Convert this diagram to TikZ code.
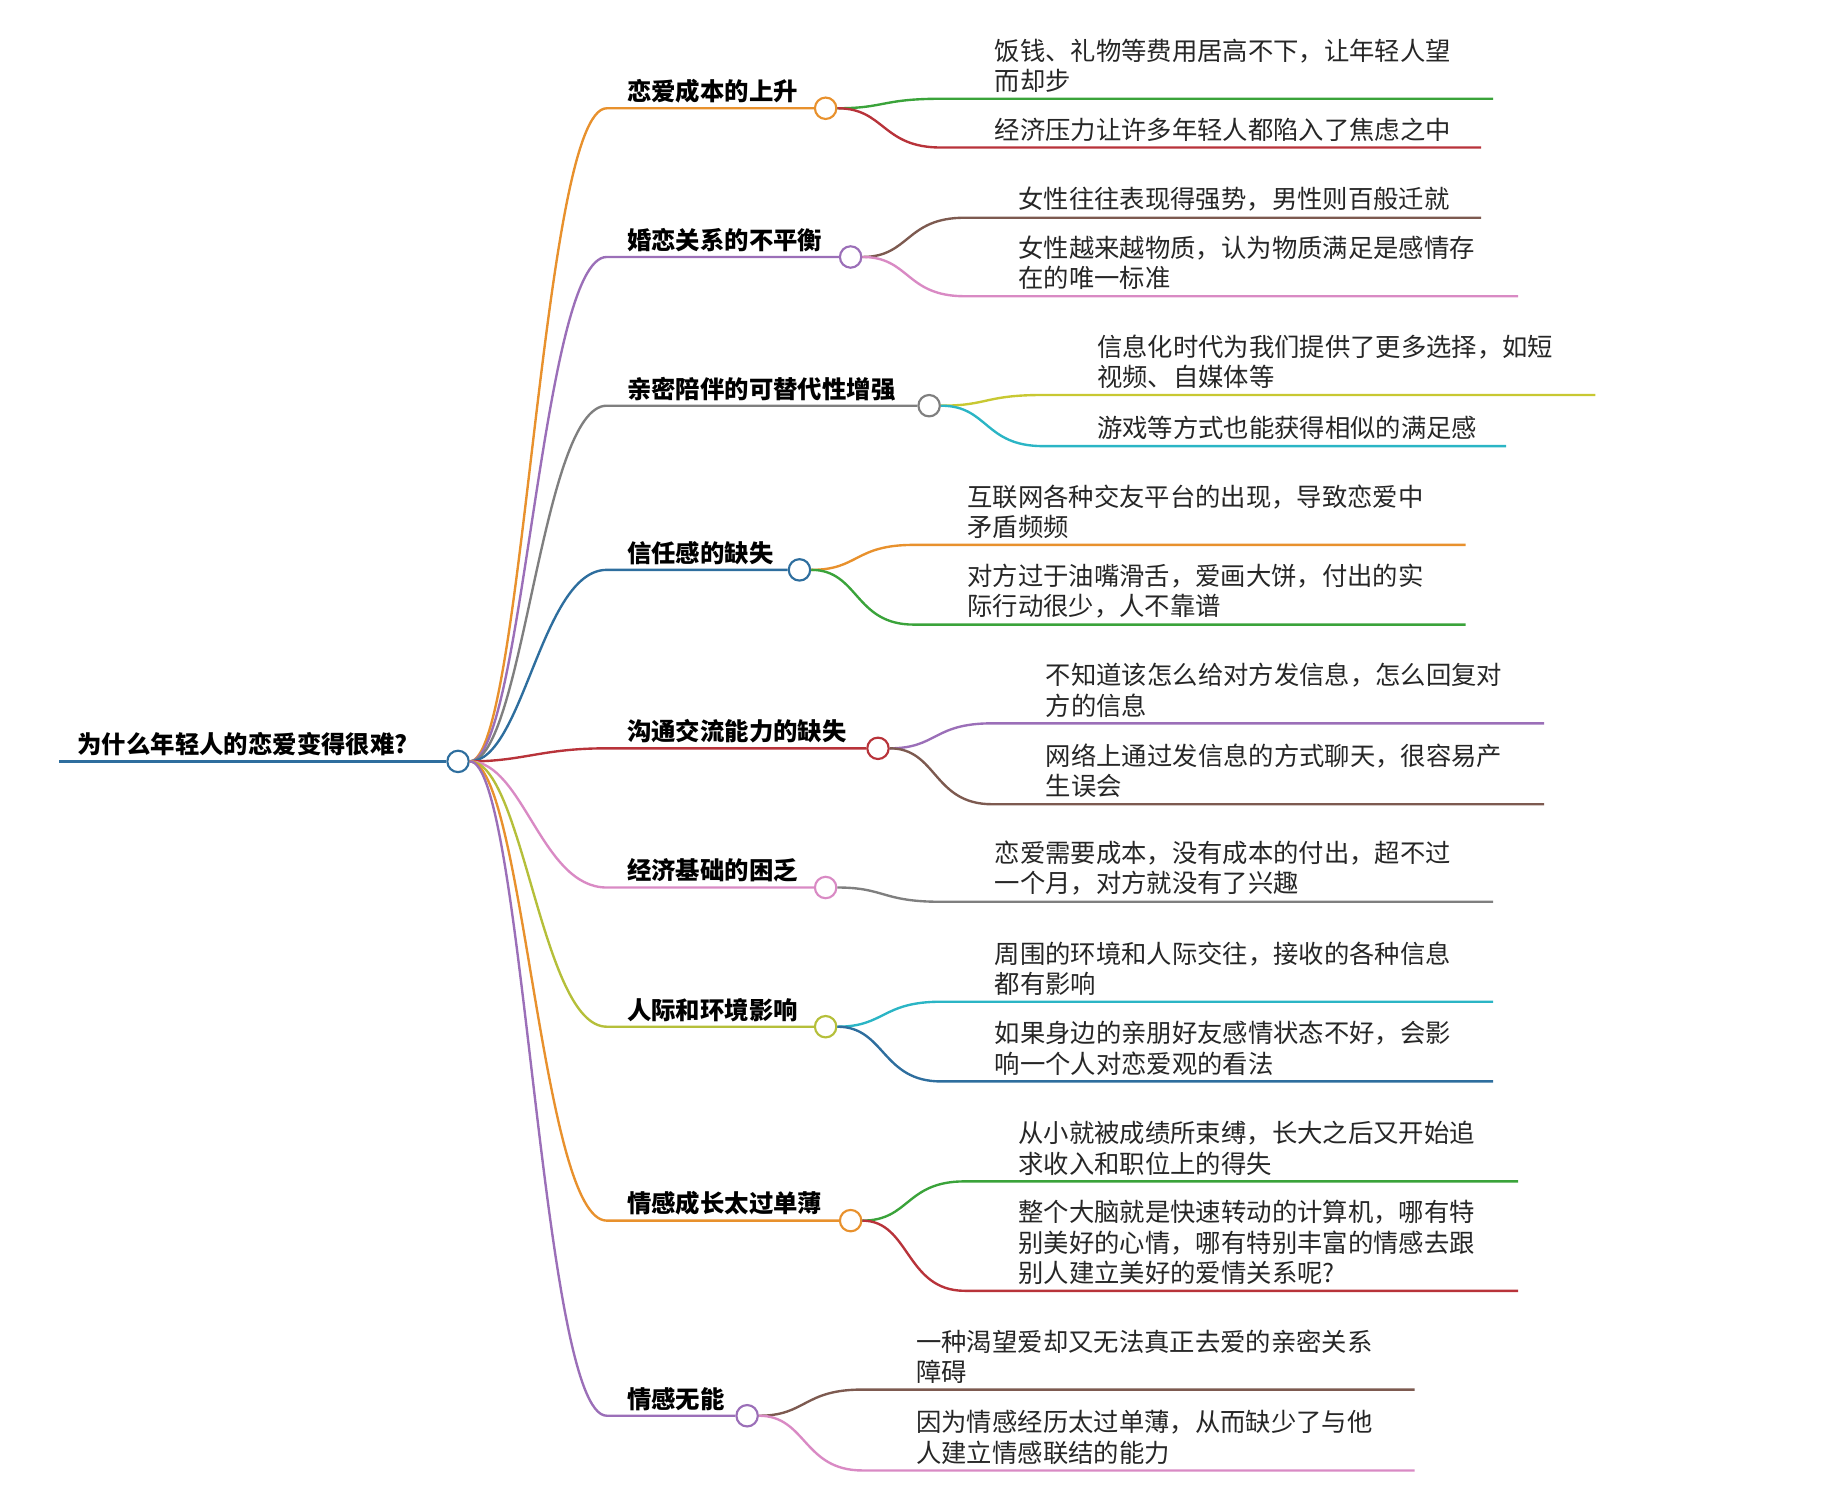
\documentclass[tikz,border=0pt]{standalone}
\usepackage{fontspec}
\setmainfont{Noto Sans CJK SC}
\definecolor{cor}{HTML}{E8912D}
\definecolor{cpu}{HTML}{9B6FB8}
\definecolor{cgr}{HTML}{7F7F7F}
\definecolor{cbl}{HTML}{2E6E9E}
\definecolor{cre}{HTML}{B8333A}
\definecolor{cpi}{HTML}{D98AC4}
\definecolor{cyg}{HTML}{B5BF3A}
\definecolor{cgn}{HTML}{3AA33A}
\definecolor{cbr}{HTML}{7D5A50}
\definecolor{ccy}{HTML}{2BB5C5}
\definecolor{cye}{HTML}{C8C832}
\tikzset{
 dot/.style={circle,draw=#1,fill=white,line width=1.8pt,minimum size=18pt,inner sep=0pt},
 ln/.style={draw=#1,line width=2pt},
 lab/.style={font=\fontsize{20.5}{24}\selectfont\bfseries,anchor=south west,inner sep=0pt,yshift=4pt},
 leaftext/.style={font=\fontsize{21.3}{25.5}\selectfont,anchor=south west,inner sep=0pt,yshift=5pt,align=left,text=black!85}
}
\newcommand{\mybranch}[5]{% name, color, y, cx, label
 \node[dot=#2] (#1) at (#4,#3) {};
 \coordinate (#1s) at (510,#3);
 \draw[ln=#2] (root.east) .. controls +(45,0) and +(-55,0) .. (#1s) -- (#1.west);
 \node[lab] (#1l) at (527,#3) {#5};
}
\newcommand{\myleaf}[7]{% name, parent, color, tx, ly, endx, text
 \coordinate (#1s) at (#4-45,#5);
 \coordinate (#1e) at (#6,#5);
 \draw[ln=#3] (#2.east) .. controls +(40,0) and +(-50,0) .. (#1s) -- (#1e);
 \node[leaftext] (#1) at (#4,#5) {#7};
}
\begin{document}
\begin{tikzpicture}[x=1pt,y=-1pt]
\useasboundingbox (0,0) rectangle (1550,1262);
\node[dot=cbl] (root) at (385,640) {};
\coordinate (r0) at (50,640);
\draw[ln=cbl] (r0) -- (root.west);
\node[lab] (rootl) at (65,640) {为什么年轻人的恋爱变得很难?};
\mybranch{b1}{cor}{91}{694}{恋爱成本的上升}
\mybranch{b2}{cpu}{216}{715}{婚恋关系的不平衡}
\mybranch{b3}{cgr}{341}{781}{亲密陪伴的可替代性增强}
\mybranch{b4}{cbl}{479}{672}{信任感的缺失}
\mybranch{b5}{cre}{629}{738}{沟通交流能力的缺失}
\mybranch{b6}{cpi}{746}{694}{经济基础的困乏}
\mybranch{b7}{cyg}{863}{694}{人际和环境影响}
\mybranch{b8}{cor}{1026}{715}{情感成长太过单薄}
\mybranch{b9}{cpu}{1190}{628}{情感无能}
\myleaf{l1a}{b1}{cgn}{836}{83}{1255}{饭钱、礼物等费用居高不下，让年轻人望\\而却步}
\myleaf{l1b}{b1}{cre}{836}{124}{1245}{经济压力让许多年轻人都陷入了焦虑之中}
\myleaf{l2a}{b2}{cbr}{856}{183}{1245}{女性往往表现得强势，男性则百般迁就}
\myleaf{l2b}{b2}{cpi}{856}{249}{1276}{女性越来越物质，认为物质满足是感情存\\在的唯一标准}
\myleaf{l3a}{b3}{cye}{922}{332}{1341}{信息化时代为我们提供了更多选择，如短\\视频、自媒体等}
\myleaf{l3b}{b3}{ccy}{922}{375}{1266}{游戏等方式也能获得相似的满足感}
\myleaf{l4a}{b4}{cor}{813}{458}{1232}{互联网各种交友平台的出现，导致恋爱中\\矛盾频频}
\myleaf{l4b}{b4}{cgn}{813}{525}{1232}{对方过于油嘴滑舌，爱画大饼，付出的实\\际行动很少，人不靠谱}
\myleaf{l5a}{b5}{cpu}{879}{608}{1298}{不知道该怎么给对方发信息，怎么回复对\\方的信息}
\myleaf{l5b}{b5}{cbr}{879}{676}{1298}{网络上通过发信息的方式聊天，很容易产\\生误会}
\myleaf{l6a}{b6}{cgr}{836}{758}{1255}{恋爱需要成本，没有成本的付出，超不过\\一个月，对方就没有了兴趣}
\myleaf{l7a}{b7}{ccy}{836}{842}{1255}{周围的环境和人际交往，接收的各种信息\\都有影响}
\myleaf{l7b}{b7}{cbl}{836}{909}{1255}{如果身边的亲朋好友感情状态不好，会影\\响一个人对恋爱观的看法}
\myleaf{l8a}{b8}{cgn}{856}{993}{1276}{从小就被成绩所束缚，长大之后又开始追\\求收入和职位上的得失}
\myleaf{l8b}{b8}{cre}{856}{1085}{1276}{整个大脑就是快速转动的计算机，哪有特\\别美好的心情，哪有特别丰富的情感去跟\\别人建立美好的爱情关系呢?}
\myleaf{l9a}{b9}{cbr}{770}{1168}{1189}{一种渴望爱却又无法真正去爱的亲密关系\\障碍}
\myleaf{l9b}{b9}{cpi}{770}{1236}{1189}{因为情感经历太过单薄，从而缺少了与他\\人建立情感联结的能力}
\end{tikzpicture}
\end{document}
